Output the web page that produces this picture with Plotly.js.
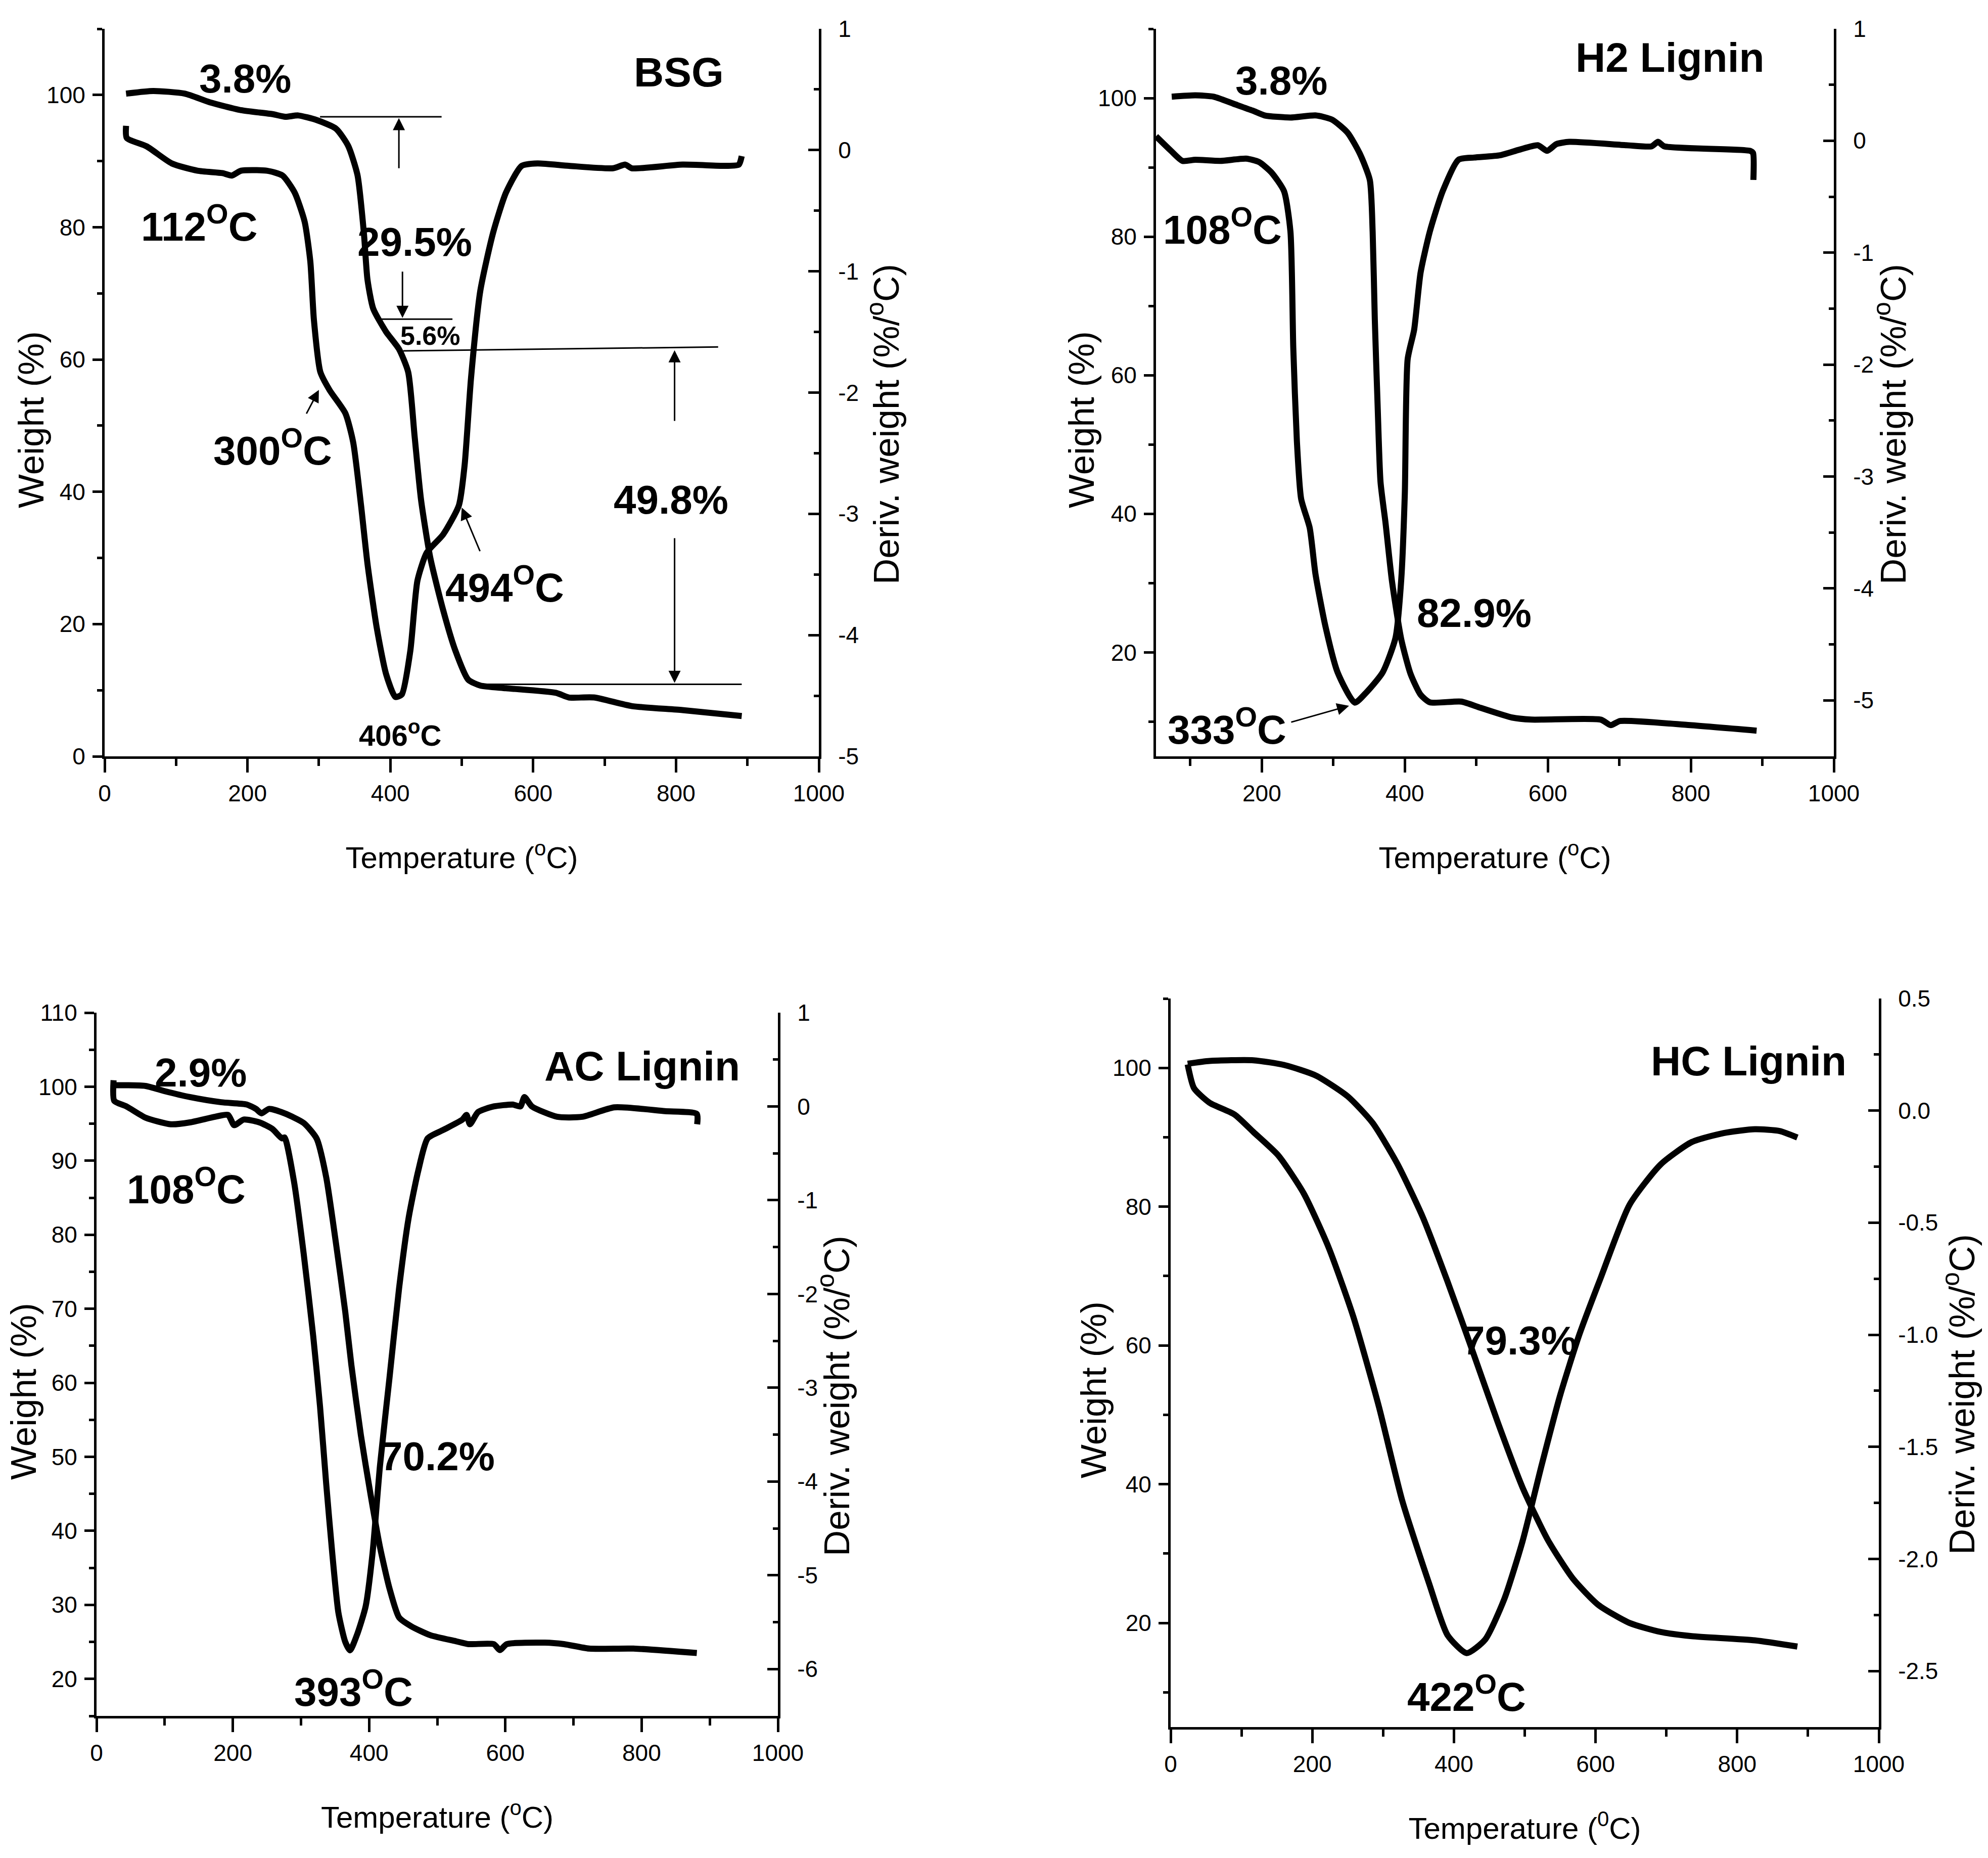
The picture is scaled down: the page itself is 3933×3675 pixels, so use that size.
<!DOCTYPE html>
<html>
<head>
<meta charset="utf-8">
<script src="https://cdn.plot.ly/plotly-3.0.1.min.js"></script>
<style>html,body{margin:0;padding:0;background:#fff;}#chart{width:3933px;height:3675px;}</style>
</head>
<body>
<div id="chart"></div>
<script>
// ---------- DATA ----------
// BSG
const bsgTgT = [30,68,112,147,191,235,253,271,297,324,341,354,363,368,376,394,412,425,434,443,456,474,491,509,526,562,632,650,685,738,809,892];
const bsgTgW = [100.2,100.6,100.2,98.9,97.7,97.1,96.7,96.9,96.2,94.9,92.3,87.9,79.1,72.1,67.7,64.2,61.6,58.1,48.4,38.8,30,22.1,16,11.6,10.7,10.3,9.6,8.9,8.9,7.6,7.0,6.1];
const bsgDtgT = [30,31,59,94,130,165,178,191,227,249,266,280,288,293,302,315,337,348,359,368,381,394,407,416,428,438,451,474,496,504,513,526,544,562,584,606,650,712,729,738,809,870,888,892];
const bsgDtgD = [0.2,0.1,0.03,-0.11,-0.17,-0.19,-0.21,-0.17,-0.17,-0.21,-0.35,-0.59,-0.92,-1.40,-1.83,-1.98,-2.17,-2.41,-2.93,-3.41,-3.94,-4.32,-4.51,-4.49,-4.13,-3.55,-3.32,-3.17,-2.93,-2.60,-1.88,-1.16,-0.68,-0.35,-0.13,-0.11,-0.13,-0.15,-0.12,-0.15,-0.12,-0.13,-0.12,-0.05];
// H2 Lignin
const h2TgT = [74,107,133,160,187,204,240,275,298,320,337,351,355,358,362,366,373,382,395,408,422,435,479,506,550,577,674,688,701,799,892];
const h2TgW = [100.2,100.4,100.2,99.2,98.2,97.5,97.2,97.5,96.9,95,92,88.2,80.7,68.1,55.5,44.6,38.7,30.3,21.9,16.9,13.9,12.8,12.9,12.0,10.6,10.3,10.3,9.5,10.1,9.5,8.7];
const h2DtgT = [52,73,89,107,142,178,196,213,231,240,244,249,255,267,275,289,306,330,346,369,387,395,400,404,413,422,435,453,475,497,533,560,586,599,612,630,710,745,754,763,883,887,887.5];
const h2DtgD = [0.04,-0.09,-0.18,-0.17,-0.18,-0.16,-0.19,-0.28,-0.45,-0.81,-1.85,-2.68,-3.20,-3.46,-3.87,-4.34,-4.75,-5.02,-4.93,-4.75,-4.44,-3.92,-3.15,-1.95,-1.69,-1.18,-0.81,-0.45,-0.17,-0.15,-0.13,-0.08,-0.04,-0.09,-0.03,-0.01,-0.04,-0.05,-0.01,-0.05,-0.09,-0.11,-0.35];
// AC Lignin
const acTgT = [25,72,100,137,183,220,234,242,253,276,304,323,337,351,365,374,388,402,416,430,444,462,490,527,546,583,592,602,658,686,723,788,881];
const acTgW = [100.2,100.1,99.4,98.6,97.9,97.6,97.0,96.4,97.0,96.4,95.1,93.0,87.8,79.1,69.6,62.4,52.9,45.0,37.8,32.2,28.3,27.1,25.9,25.1,24.7,24.7,23.9,24.7,24.9,24.7,24.1,24.1,23.5];
const acDtgT = [25,26,44,72,109,137,174,193,202,216,239,258,272,276,290,304,318,328,337,346,355,365,372,383,395,405,416,430,444,458,472,486,509,537,543,548,560,583,611,622,628,639,676,713,760,834,881,881.5];
const acDtgD = [0.28,0.06,0.0,-0.12,-0.19,-0.17,-0.11,-0.09,-0.20,-0.14,-0.17,-0.24,-0.34,-0.33,-0.81,-1.57,-2.45,-3.20,-4.02,-4.77,-5.40,-5.71,-5.80,-5.62,-5.33,-4.77,-3.83,-2.89,-1.94,-1.19,-0.69,-0.34,-0.25,-0.14,-0.09,-0.19,-0.06,0.0,0.02,0.0,0.10,0.0,-0.11,-0.11,-0.01,-0.05,-0.08,-0.19];
// HC Lignin
const hcTgT = [24,55,117,161,205,250,285,320,356,391,427,462,497,533,568,604,648,692,736,825,885];
const hcTgW = [100.6,101.0,101.1,100.4,98.9,95.9,92.1,86.2,78.5,69.2,59.0,48.9,39.5,31.9,26.4,22.6,20.0,18.7,18.1,17.5,16.6];
const hcDtgT = [24,33,55,90,117,152,188,223,258,294,327,365,391,418,444,471,497,524,550,577,608,648,692,736,781,825,860,885];
const hcDtgD = [0.206,0.10,0.035,-0.017,-0.096,-0.20,-0.37,-0.61,-0.92,-1.32,-1.74,-2.11,-2.34,-2.42,-2.36,-2.18,-1.92,-1.58,-1.27,-1.00,-0.74,-0.42,-0.24,-0.14,-0.10,-0.083,-0.091,-0.12];

// Right-axis tick values and labels (hyphen minus as in the reference)
const rTickBSG = [1, 0, -1, -2, -3, -4, -5];
const rTextBSG = ['1', '0', '-1', '-2', '-3', '-4', '-5'];
const rTickH2 = [1, 0, -1, -2, -3, -4, -5];
const rTextH2 = ['1', '0', '-1', '-2', '-3', '-4', '-5'];
const rTickAC = [1, 0, -1, -2, -3, -4, -5, -6];
const rTextAC = ['1', '0', '-1', '-2', '-3', '-4', '-5', '-6'];
const rTickHC = [0.5, 0, -0.5, -1, -1.5, -2, -2.5];
const rTextHC = ['0.5', '0.0', '-0.5', '-1.0', '-1.5', '-2.0', '-2.5'];

// Titles
const xTitle = 'Temperature (<sup>o</sup>C)';
const xTitleHC = 'Temperature (<sup>0</sup>C)';
const yTitleLeft = 'Weight (%)';
const yTitleRight = 'Deriv. weight (%/<sup>o</sup>C)';
const panelNames = ['BSG', 'H2 Lignin', 'AC Lignin', 'HC Lignin'];

// ---------- STYLE ----------
const NARROW = '"Liberation Sans Narrow", "Arial Narrow", "Liberation Sans", Arial, sans-serif';
const ARIAL = '"Liberation Sans", Arial, sans-serif';
const BLK = '#000';
const W = 3933, H = 3675;
const LW = 12;
const TICKF = 46;

function px2x(a, b) { return [a / W, b / W]; }
function py2y(top, bot) { return [(H - bot) / H, (H - top) / H]; }

const dom = [
  {x: px2x(207, 1620), y: py2y(57, 1496)},
  {x: px2x(2287, 3628), y: py2y(57, 1496)},
  {x: px2x(191, 1539), y: py2y(2003, 3394)},
  {x: px2x(2316, 3717), y: py2y(1975, 3416)}
];

function xAxis(d, range, title, yname) {
  return {
    domain: d, range: range, anchor: yname, showgrid: false, zeroline: false,
    showline: true, linecolor: BLK, linewidth: 5, mirror: false,
    tick0: 0, dtick: 200, ticks: 'outside', ticklen: 27, tickwidth: 5, tickcolor: BLK,
    minor: {dtick: 100, ticks: 'outside', ticklen: 14, tickwidth: 5, tickcolor: BLK},
    tickfont: {family: NARROW, size: TICKF, color: BLK}, ticklabelstandoff: 2,
    automargin: false,
    title: {text: title, font: {family: NARROW, size: 60, color: BLK}, standoff: 82}
  };
}
function yLeft(d, range, dt, mdt, xname) {
  return {
    domain: d, range: range, anchor: xname, showgrid: false, zeroline: false,
    showline: true, linecolor: BLK, linewidth: 5,
    tick0: 0, dtick: dt, ticks: 'outside', ticklen: 19, tickwidth: 5, tickcolor: BLK,
    minor: {dtick: mdt, tick0: 0, ticks: 'outside', ticklen: 10, tickwidth: 5, tickcolor: BLK},
    tickfont: {family: NARROW, size: TICKF, color: BLK}, ticklabelstandoff: 5,
    automargin: false
  };
}
function yRight(over, range, tv, tt, mdt, xname) {
  return {
    overlaying: over, side: 'right', range: range, anchor: xname, showgrid: false, zeroline: false,
    showline: true, linecolor: BLK, linewidth: 5,
    tickmode: 'array', tickvals: tv, ticktext: tt,
    ticks: 'inside', ticklen: 21, tickwidth: 5, tickcolor: BLK,
    minor: {dtick: mdt, tick0: 0, ticks: 'inside', ticklen: 10, tickwidth: 5, tickcolor: BLK},
    tickfont: {family: NARROW, size: TICKF, color: BLK}, ticklabelstandoff: 24,
    automargin: false
  };
}

function line(x, y, xa, ya) {
  return {x: x, y: y, xaxis: xa, yaxis: ya, type: 'scatter', mode: 'lines',
          line: {color: BLK, width: LW, shape: 'spline', smoothing: 0.6},
          hoverinfo: 'skip', showlegend: false};
}

const data = [
  line(bsgTgT, bsgTgW, 'x', 'y'),
  line(bsgDtgT, bsgDtgD, 'x', 'y2'),
  line(h2TgT, h2TgW, 'x2', 'y3'),
  line(h2DtgT, h2DtgD, 'x2', 'y4'),
  line(acTgT, acTgW, 'x3', 'y5'),
  line(acDtgT, acDtgD, 'x3', 'y6'),
  line(hcTgT, hcTgW, 'x4', 'y7'),
  line(hcDtgT, hcDtgD, 'x4', 'y8')
];

const BIG = 80, TITLE = 82;
function lab(text, x, y, xr, yr, size) {
  return {text: '<b>' + text + '</b>', x: x, y: y, xref: xr, yref: yr, showarrow: false,
          font: {family: NARROW, size: size || BIG, color: BLK}, xanchor: 'center', yanchor: 'middle'};
}
function arr(hx, hy, tx, ty, xr, yr) {
  return {text: '', x: hx, y: hy, ax: tx, ay: ty, xref: xr, yref: yr, axref: xr, ayref: yr,
          showarrow: true, arrowhead: 2, arrowsize: 1.6, arrowwidth: 3, arrowcolor: BLK, standoff: 0};
}
function seg(x0, y0, x1, y1, xr, yr) {
  return {type: 'line', x0: x0, y0: y0, x1: x1, y1: y1, xref: xr, yref: yr,
          line: {color: BLK, width: 3}};
}
// vertical axis titles, placed in paper coordinates (pixel centres of the reference)
function vtitle(text, cx, cy) {
  return {text: text, x: cx / W, y: (H - cy) / H, xref: 'paper', yref: 'paper', showarrow: false,
          textangle: -90, font: {family: ARIAL, size: 71, color: BLK}, xanchor: 'center', yanchor: 'middle'};
}

const annotations = [
  // axis titles
  vtitle(yTitleLeft, 61, 830), vtitle(yTitleRight, 1748, 839),
  vtitle(yTitleLeft, 2139, 830), vtitle(yTitleRight, 3740, 839),
  vtitle(yTitleLeft, 46, 2752), vtitle(yTitleRight, 1650, 2761),
  vtitle(yTitleLeft, 2163, 2749), vtitle(yTitleRight, 3876, 2758),
  // BSG
  lab(panelNames[0], 804, 103.5, 'x', 'y', TITLE),
  lab('3.8%', 197, 102.5, 'x', 'y'),
  lab('112<sup>O</sup>C', 132, 80.6, 'x', 'y'),
  lab('29.5%', 434, 77.8, 'x', 'y'),
  lab('5.6%', 456, 63.6, 'x', 'y', 52),
  lab('300<sup>O</sup>C', 235, 46.7, 'x', 'y'),
  lab('49.8%', 793, 38.8, 'x', 'y'),
  lab('494<sup>O</sup>C', 560, 26, 'x', 'y'),
  lab('406<sup>o</sup>C', 414, 3.5, 'x', 'y', 58),
  arr(300, 55.4, 282, 51.7, 'x', 'y'),
  arr(500, 37.6, 526, 30.9, 'x', 'y'),
  arr(412, 96.5, 412, 88.8, 'x', 'y'),
  arr(417, 66.3, 417, 73.4, 'x', 'y'),
  arr(798, 61.4, 798, 50.6, 'x', 'y'),
  arr(798, 11.1, 798, 33.1, 'x', 'y'),
  // H2 Lignin
  lab(panelNames[1], 771, 105.9, 'x2', 'y3', TITLE),
  lab('3.8%', 227, 102.5, 'x2', 'y3'),
  lab('108<sup>O</sup>C', 145, 81.5, 'x2', 'y3'),
  lab('82.9%', 497, 25.7, 'x2', 'y3'),
  lab('333<sup>O</sup>C', 151, 9.3, 'x2', 'y3'),
  arr(322, 12.3, 240, 9.9, 'x2', 'y3'),
  // AC Lignin
  lab(panelNames[2], 801, 102.8, 'x3', 'y5', TITLE),
  lab('2.9%', 153, 101.9, 'x3', 'y5'),
  lab('108<sup>O</sup>C', 132, 86.6, 'x3', 'y5'),
  lab('70.2%', 500, 50.1, 'x3', 'y5'),
  lab('393<sup>O</sup>C', 377, 18.7, 'x3', 'y5'),
  // HC Lignin
  lab(panelNames[3], 816, 101, 'x4', 'y7', TITLE),
  lab('79.3%', 493, 60.7, 'x4', 'y7'),
  lab('422<sup>O</sup>C', 418, 9.8, 'x4', 'y7')
];

const shapes = [
  seg(301.6, 96.7, 471.8, 96.7, 'x', 'y'),
  seg(381, 66.1, 487, 66.1, 'x', 'y'),
  seg(418, 61.3, 859, 61.9, 'x', 'y'),
  seg(513, 10.9, 892, 10.9, 'x', 'y')
];

const layout = {
  width: W, height: H, margin: {l: 0, r: 0, t: 0, b: 0, pad: 0},
  paper_bgcolor: '#fff', plot_bgcolor: 'rgba(0,0,0,0)', showlegend: false,
  xaxis: xAxis(dom[0].x, [0, 1000], xTitle, 'y'),
  yaxis: yLeft(dom[0].y, [0, 110], 20, 10, 'x'),
  yaxis2: yRight('y', [-5, 1], rTickBSG, rTextBSG, 0.5, 'x'),
  xaxis2: xAxis(dom[1].x, [52, 1000], xTitle, 'y3'),
  yaxis3: yLeft(dom[1].y, [5, 110], 20, 10, 'x2'),
  yaxis4: yRight('y3', [-5.5, 1], rTickH2, rTextH2, 0.5, 'x2'),
  xaxis3: xAxis(dom[2].x, [0, 1000], xTitle, 'y5'),
  yaxis5: yLeft(dom[2].y, [15, 110], 10, 5, 'x3'),
  yaxis6: yRight('y5', [-6.5, 1], rTickAC, rTextAC, 0.5, 'x3'),
  xaxis4: xAxis(dom[3].x, [0, 1000], xTitleHC, 'y7'),
  yaxis7: yLeft(dom[3].y, [5, 110], 20, 10, 'x4'),
  yaxis8: yRight('y7', [-2.75, 0.5], rTickHC, rTextHC, 0.25, 'x4'),
  annotations: annotations,
  shapes: shapes
};

Plotly.newPlot('chart', data, layout, {staticPlot: true, displayModeBar: false});
</script>
</body>
</html>
